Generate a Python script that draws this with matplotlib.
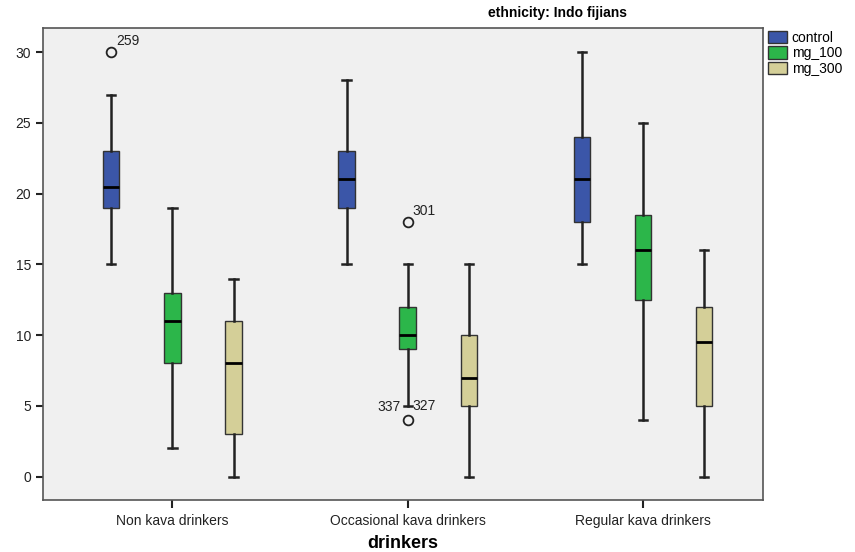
import matplotlib.pyplot as plt
from matplotlib.patches import Patch

plt.rcParams['font.family'] = ['Liberation Sans', 'DejaVu Sans']

groups = ["Non kava drinkers", "Occasional kava drinkers", "Regular kava drinkers"]
series = ["control", "mg_100", "mg_300"]
colors = ["#3b56a8", "#2cb64a", "#d4cf98"]

# (whislo, q1, med, q3, whishi) per group, per series
control = [(15, 19, 20.5, 23, 27), (15, 19, 21, 23, 28), (15, 18, 21, 24, 30)]
mg_100 = [(2, 8, 11, 13, 19), (5, 9, 10, 12, 15), (4, 12.5, 16, 18.5, 25)]
mg_300 = [(0, 3, 8, 11, 14), (0, 5, 7, 10, 15), (0, 5, 9.5, 12, 16)]
# outliers: (group, series, value, label)
outliers = [(0, 0, 30, "259"), (1, 1, 18, "301"), (1, 1, 4, "337-327")]

fig = plt.figure(figsize=(8.55, 5.52), dpi=100)
ax = fig.add_axes([43 / 855, 1 - 500 / 552, 720 / 855, 472 / 552])
ax.set_facecolor("#f0f0f0")

offsets = [-0.26, 0, 0.26]
for s, (name, vals, col) in enumerate(zip(series, [control, mg_100, mg_300], colors)):
    stats = []
    pos = []
    for g, v in enumerate(vals):
        fl = [o[2] for o in outliers if o[0] == g and o[1] == s]
        stats.append(dict(whislo=v[0], q1=v[1], med=v[2], q3=v[3], whishi=v[4], fliers=fl))
        pos.append(g + offsets[s])
    ax.bxp(stats, positions=pos, widths=0.07, patch_artist=True,
           boxprops=dict(facecolor=col, edgecolor="#333333", linewidth=1),
           medianprops=dict(color="black", linewidth=2),
           whiskerprops=dict(color="#222222", linewidth=1.8),
           capprops=dict(color="#222222", linewidth=1.8),
           capwidths=0.035,
           flierprops=dict(marker="o", markerfacecolor="none", markeredgecolor="#222222",
                           markersize=7, markeredgewidth=1.3))

for g, s, v, lab in outliers:
    x = g + offsets[s]
    if lab == "337-327":
        ax.text(x - 0.03, v + 0.9, "337", ha="right", va="center", fontsize=10, color="#222222")
        ax.text(x + 0.02, v + 1.0, "327", ha="left", va="center", fontsize=10, color="#222222")
    else:
        ax.text(x + 0.02, v + 0.3, lab, ha="left", va="bottom", fontsize=10, color="#222222")

ax.set_xlim(-0.55, 2.51)
ax.set_ylim(-1.65, 31.7)
ax.set_yticks([0, 5, 10, 15, 20, 25, 30])
ax.set_xticks(range(len(groups)))
ax.set_xticklabels(groups, fontsize=10)
ax.tick_params(axis="y", labelsize=10, length=5, width=1.5, colors="#222222")
ax.tick_params(axis="x", length=6, width=1.5, colors="#222222", pad=4)
for sp in ax.spines.values():
    sp.set_color("#555555")
    sp.set_linewidth(1.2)

ax.set_xlabel("drinkers", fontsize=13, fontweight="bold", labelpad=5)
fig.text(557 / 855, 1 - 13 / 552, "ethnicity: Indo fijians", ha="center", va="center",
         fontsize=10, fontweight="bold")

handles = [Patch(facecolor=c, edgecolor="#333333", label=n) for n, c in zip(series, colors)]
ax.legend(handles=handles, loc="upper left", bbox_to_anchor=(1.003, 1.0), frameon=False,
          fontsize=10, handlelength=1.4, handleheight=1.0, handletextpad=0.3,
          labelspacing=0.1, borderpad=0.2, borderaxespad=0)

fig.savefig("out.png", dpi=100)
